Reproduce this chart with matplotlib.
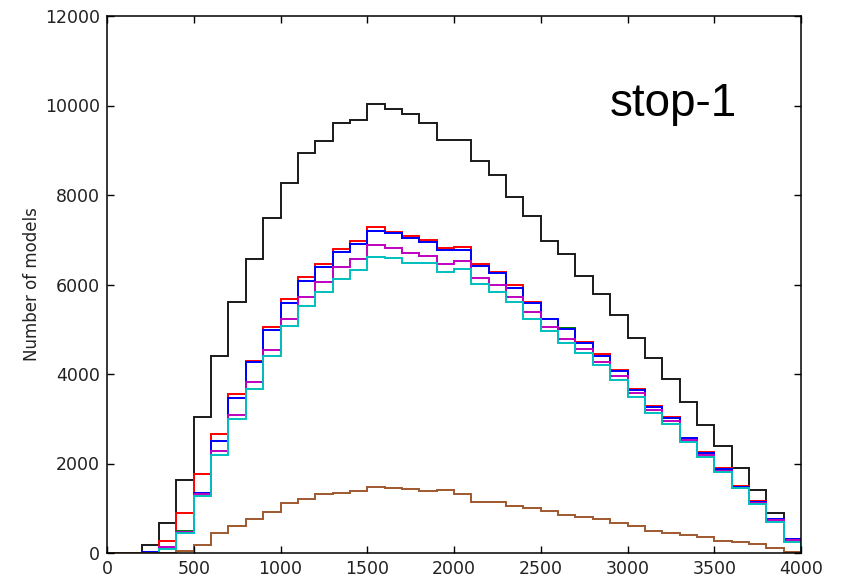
import numpy as np
import matplotlib
matplotlib.use("Agg")
import matplotlib.pyplot as plt

bin_edges = list(range(0, 4100, 100))

black = [0, 0, 180, 660, 1640, 3040, 4400, 5600, 6570, 7490, 8270, 8930, 9200, 9600, 9680,
         10030, 9920, 9810, 9620, 9240, 9220, 8760, 8450, 7960, 7530, 6970, 6680, 6190, 5780,
         5320, 4800, 4360, 3895, 3380, 2850, 2400, 1907, 1400, 900, 320]
red = [0, 0, 30, 270, 890, 1760, 2660, 3550, 4300, 5050, 5670, 6160, 6450, 6790, 6970,
       7280, 7180, 7090, 6990, 6810, 6830, 6460, 6290, 5990, 5620, 5230, 5030, 4720, 4440,
       4090, 3660, 3290, 3030, 2580, 2260, 1907, 1500, 1160, 760, 310]
green = [0, 0, 15, 140, 500, 1350, 2510, 3470, 4260, 4980, 5590, 6080, 6380, 6720, 6900,
         7200, 7140, 7030, 6940, 6760, 6780, 6420, 6260, 5930, 5590, 5220, 5020, 4700, 4410,
         4070, 3640, 3270, 3010, 2560, 2240, 1870, 1480, 1150, 750, 306]
blue = [0, 0, 15, 140, 480, 1350, 2510, 3470, 4260, 4980, 5590, 6080, 6380, 6720, 6900,
        7200, 7140, 7030, 6940, 6760, 6780, 6420, 6260, 5930, 5590, 5220, 5000, 4700, 4410,
        4070, 3640, 3270, 3010, 2560, 2240, 1870, 1480, 1150, 750, 306]
magenta = [0, 0, 10, 130, 470, 1320, 2290, 3080, 3830, 4540, 5240, 5710, 6050, 6380, 6560,
           6880, 6810, 6700, 6640, 6460, 6520, 6140, 6000, 5710, 5390, 5040, 4780, 4560, 4260,
           3960, 3570, 3200, 2940, 2525, 2200, 1840, 1460, 1120, 730, 280]
cyan = [0, 0, 5, 100, 440, 1280, 2190, 2990, 3660, 4400, 5070, 5520, 5830, 6120, 6320,
        6620, 6590, 6490, 6470, 6290, 6350, 6010, 5840, 5620, 5240, 4950, 4690, 4460, 4190,
        3870, 3490, 3120, 2875, 2490, 2150, 1818, 1445, 1095, 700, 253]
brown = [0, 0, 0, 10, 50, 180, 440, 600, 760, 910, 1110, 1210, 1310, 1350, 1390,
         1480, 1460, 1430, 1385, 1410, 1310, 1140, 1130, 1060, 1000, 945, 850, 800, 750,
         660, 600, 490, 455, 400, 350, 275, 238, 193, 105, 30]

xticks = [0, 500, 1000, 1500, 2000, 2500, 3000, 3500, 4000]
yticks = [0, 2000, 4000, 6000, 8000, 10000, 12000]

series = [
    (black, '#1a1a1a'),
    (red, (1, 0, 0)),
    (green, (0, 0.5, 0)),
    (blue, (0, 0, 1)),
    (magenta, (0.75, 0, 0.75)),
    (cyan, (0, 0.75, 0.75)),
    (brown, '#a0582e'),
]

fig = plt.figure(figsize=(8.44, 5.79), dpi=100)
ax = fig.add_axes([107/844, 1 - 553/579, (801-107)/844, (553-16)/579])

for vals, col in series:
    ax.stairs(vals, bin_edges, baseline=0, color=col, lw=1.4)

ax.set_xlim(0, 4000)
ax.set_ylim(0, 12000)
ax.set_xticks(xticks)
ax.set_yticks(yticks)
ax.tick_params(direction='in', top=True, right=True, length=5, width=1,
               labelsize=12.5, pad=5, labelcolor='#222222')
for s in ax.spines.values():
    s.set_linewidth(1.1)
ax.set_ylabel('Number of models', fontsize=12, labelpad=3, color='#222222')

ax.text(2900, 9765, 'stop-1', fontsize=33, family='Liberation Sans',
        va='baseline', ha='left', color='k')

fig.savefig('out.png', dpi=100)
